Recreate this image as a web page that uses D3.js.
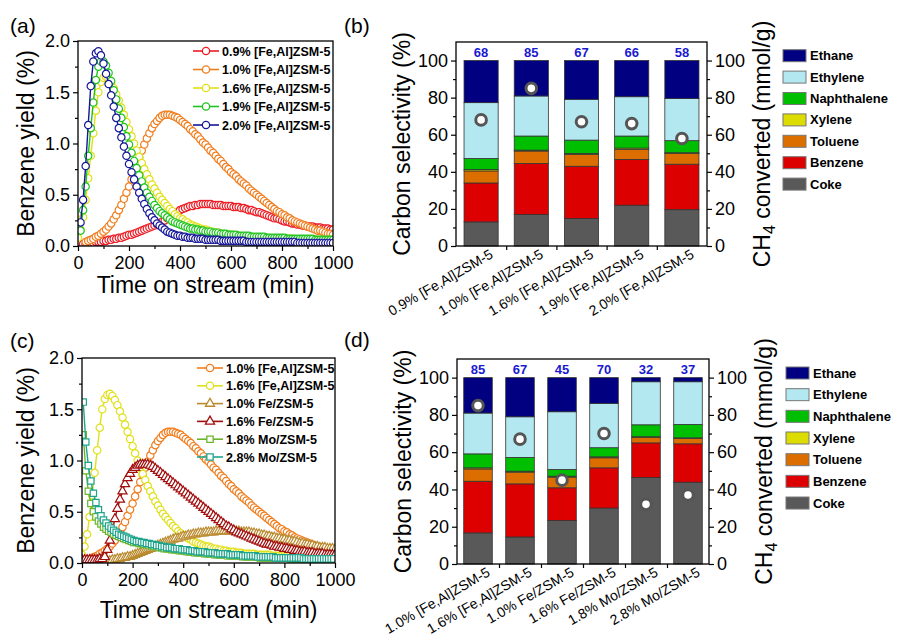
<!DOCTYPE html>
<html>
<head>
<meta charset="utf-8">
<script src="https://cdn.jsdelivr.net/npm/d3@7"></script>
<style>
  body { margin: 0; background: #fff; }
  svg { font-family: Arial, "Liberation Sans", sans-serif; }
</style>
</head>
<body>
<svg id="fig" width="898" height="640"></svg>
<script>
/*
 * Benzene yield vs time on stream (a, c) and carbon selectivity bars (b, d).
 * Yield series are sampled every 10 min from their start time.
 */
var T_STEP = 10;

// ---- benzene yield (%) ----
var yFeAl09 = [0.02,0.02,0.03,0.03,0.03,0.04,0.04,0.04,0.05,0.05,
  0.06,0.06,0.07,0.07,0.08,0.08,0.09,0.10,0.11,0.11,
  0.12,0.13,0.14,0.15,0.16,0.17,0.18,0.19,0.20,0.21,
  0.22,0.24,0.25,0.27,0.29,0.30,0.32,0.33,0.35,0.36,
  0.37,0.38,0.39,0.39,0.40,0.40,0.41,0.41,0.41,0.41,
  0.41,0.40,0.40,0.40,0.40,0.39,0.39,0.39,0.39,0.38,
  0.38,0.38,0.37,0.37,0.36,0.35,0.35,0.34,0.33,0.33,
  0.32,0.31,0.30,0.29,0.28,0.27,0.27,0.26,0.25,0.24,
  0.24,0.23,0.22,0.22,0.21,0.21,0.20,0.20,0.19,0.19,
  0.19,0.18,0.18,0.18,0.17,0.17,0.17,0.16,0.16];
var yFeAl10 = [0.04,0.05,0.06,0.07,0.09,0.10,0.12,0.14,0.16,0.19,
  0.22,0.26,0.30,0.35,0.40,0.46,0.52,0.58,0.65,0.72,
  0.79,0.86,0.93,0.99,1.05,1.10,1.15,1.19,1.22,1.25,
  1.27,1.28,1.28,1.28,1.27,1.26,1.25,1.23,1.21,1.19,
  1.17,1.14,1.12,1.09,1.07,1.04,1.01,0.99,0.96,0.93,
  0.91,0.88,0.85,0.83,0.80,0.77,0.75,0.72,0.70,0.68,
  0.65,0.63,0.61,0.59,0.56,0.54,0.52,0.50,0.48,0.46,
  0.44,0.42,0.40,0.38,0.36,0.34,0.33,0.31,0.30,0.28,
  0.27,0.25,0.24,0.23,0.22,0.21,0.20,0.19,0.18,0.17,
  0.16,0.15,0.15,0.14,0.13,0.12,0.12,0.11];
var yFeAl16 = [0.08,0.16,0.28,0.45,0.66,0.88,1.10,1.32,1.50,1.60,
  1.64,1.65,1.63,1.59,1.54,1.48,1.42,1.35,1.28,1.21,
  1.14,1.07,1.00,0.93,0.87,0.81,0.75,0.70,0.65,0.60,
  0.56,0.52,0.48,0.45,0.42,0.39,0.36,0.34,0.31,0.29,
  0.27,0.26,0.24,0.23,0.21,0.20,0.19,0.18,0.17,0.16,
  0.16,0.15,0.14,0.14,0.13,0.13,0.12,0.12,0.11,0.11,
  0.11,0.10,0.10,0.10,0.09,0.09,0.09,0.09,0.09,0.08,
  0.08,0.08,0.08,0.08,0.08,0.07,0.07,0.07,0.07,0.07,
  0.07,0.07,0.07,0.07,0.07,0.06,0.06,0.06,0.06,0.06,
  0.06,0.06,0.06,0.06,0.06,0.06,0.06,0.06,0.06,0.06,0.06];
var yFeAl19 = [0.15,0.35,0.58,0.88,1.15,1.40,1.62,1.75,1.80,1.80,
  1.76,1.69,1.61,1.52,1.43,1.34,1.25,1.16,1.07,0.99,
  0.91,0.83,0.76,0.69,0.63,0.57,0.52,0.48,0.44,0.40,
  0.37,0.34,0.32,0.30,0.28,0.26,0.24,0.23,0.22,0.21,
  0.20,0.19,0.18,0.17,0.17,0.16,0.16,0.15,0.15,0.14,
  0.14,0.14,0.13,0.13,0.13,0.12,0.12,0.12,0.11,0.11,
  0.11,0.11,0.10,0.10,0.10,0.10,0.10,0.09,0.09,0.09,
  0.09,0.09,0.09,0.08,0.08,0.08,0.08,0.08,0.08,0.08,
  0.08,0.07,0.07,0.07,0.07,0.07,0.07,0.07,0.07,0.07,
  0.07,0.07,0.06,0.06,0.06,0.06,0.06,0.06,0.06,0.06];
var yFeAl20 = [0.23,0.45,0.78,1.18,1.56,1.80,1.88,1.90,1.86,1.78,
  1.68,1.58,1.47,1.36,1.25,1.15,1.06,0.97,0.88,0.80,
  0.72,0.65,0.58,0.52,0.46,0.41,0.36,0.32,0.28,0.25,
  0.22,0.20,0.18,0.16,0.14,0.13,0.12,0.11,0.10,0.10,
  0.09,0.09,0.08,0.08,0.08,0.07,0.07,0.07,0.07,0.06,
  0.06,0.06,0.06,0.06,0.06,0.05,0.05,0.05,0.05,0.05,
  0.05,0.05,0.05,0.05,0.05,0.04,0.04,0.04,0.04,0.04,
  0.04,0.04,0.04,0.04,0.04,0.04,0.04,0.04,0.04,0.04,
  0.04,0.04,0.04,0.04,0.04,0.03,0.03,0.03,0.03,0.03,
  0.03,0.03,0.03,0.03,0.03,0.03,0.03,0.03,0.03,0.03];
var yFe10 = [0.01,0.01,0.02,0.02,0.03,0.03,0.04,0.04,0.05,0.05,
  0.06,0.06,0.07,0.08,0.09,0.10,0.11,0.12,0.13,0.14,
  0.15,0.16,0.17,0.18,0.19,0.20,0.21,0.22,0.23,0.24,
  0.24,0.25,0.26,0.26,0.27,0.27,0.28,0.28,0.29,0.29,
  0.29,0.30,0.30,0.30,0.30,0.31,0.31,0.31,0.31,0.31,
  0.31,0.31,0.31,0.31,0.31,0.30,0.30,0.30,0.30,0.29,
  0.29,0.28,0.28,0.27,0.27,0.26,0.26,0.25,0.25,0.24,
  0.24,0.23,0.23,0.22,0.22,0.21,0.21,0.20,0.19,0.19,
  0.18,0.18,0.17,0.17,0.16,0.16,0.15,0.15,0.15,0.14,
  0.14,0.14,0.13];
var yFe16 = [0.03,0.03,0.03,0.03,0.03,0.03,0.03,0.04,0.04,0.06,
  0.13,0.22,0.32,0.43,0.53,0.62,0.70,0.77,0.83,0.87,
  0.91,0.93,0.95,0.96,0.96,0.96,0.96,0.95,0.94,0.92,
  0.90,0.88,0.86,0.84,0.82,0.80,0.78,0.76,0.74,0.72,
  0.70,0.68,0.66,0.64,0.62,0.60,0.58,0.56,0.54,0.52,
  0.50,0.48,0.46,0.44,0.42,0.40,0.38,0.36,0.35,0.33,
  0.32,0.30,0.29,0.28,0.27,0.26,0.25,0.24,0.23,0.22,
  0.21,0.20,0.19,0.18,0.18,0.17,0.16,0.16,0.15,0.15,
  0.14,0.14,0.13,0.13,0.12,0.12,0.11,0.11,0.11,0.10,
  0.10,0.10,0.09,0.09,0.09,0.09,0.08,0.08,0.08,0.08,0.08];
var yMo18 = [1.25,0.90,0.70,0.58,0.50,0.45,0.41,0.38,0.35,0.33,
  0.31,0.30,0.28,0.27,0.26,0.25,0.24,0.23,0.22,0.21,
  0.20,0.20,0.19,0.19,0.18,0.18,0.17,0.17,0.16,0.16,
  0.15,0.15,0.14,0.14,0.14,0.13,0.13,0.13,0.12,0.12,
  0.12,0.11,0.11,0.11,0.10,0.10,0.10,0.10,0.09,0.09,
  0.09,0.09,0.08,0.08,0.08,0.08,0.08,0.07,0.07,0.07,
  0.07,0.07,0.07,0.06,0.06,0.06,0.06,0.06,0.06,0.06,
  0.05,0.05,0.05,0.05,0.05,0.05,0.05,0.05,0.05,0.05,
  0.05,0.05,0.04,0.04,0.04,0.04,0.04,0.04,0.04,0.04,
  0.04,0.04,0.04,0.04,0.04,0.04,0.04,0.04,0.04,0.04];
var yMo28 = [1.57,1.18,0.95,0.80,0.68,0.59,0.52,0.46,0.42,0.39,
  0.36,0.34,0.32,0.30,0.28,0.27,0.26,0.25,0.24,0.23,
  0.22,0.21,0.21,0.20,0.20,0.19,0.19,0.18,0.18,0.17,
  0.17,0.16,0.16,0.15,0.15,0.15,0.14,0.14,0.14,0.13,
  0.13,0.13,0.12,0.12,0.12,0.11,0.11,0.11,0.11,0.10,
  0.10,0.10,0.10,0.09,0.09,0.09,0.09,0.09,0.08,0.08,
  0.08,0.08,0.08,0.07,0.07,0.07,0.07,0.07,0.07,0.06,
  0.06,0.06,0.06,0.06,0.06,0.06,0.05,0.05,0.05,0.05,
  0.05,0.05,0.05,0.05,0.05,0.05,0.05,0.04,0.04,0.04,
  0.04,0.04,0.04,0.04,0.04,0.04,0.04,0.04,0.04,0.04];

var namesA  = ['0.9% [Fe,Al]ZSM-5', '1.0% [Fe,Al]ZSM-5', '1.6% [Fe,Al]ZSM-5', '1.9% [Fe,Al]ZSM-5', '2.0% [Fe,Al]ZSM-5'];
var colorsA = ['#ec1c24', '#f07d1e', '#e0e01a', '#1fc41f', '#17179a'];
var shapesA = ['circle', 'circle', 'circle', 'circle', 'circle'];
var startsA = [20, 30, 0, 10, 10];
var valuesA = [yFeAl09, yFeAl10, yFeAl16, yFeAl19, yFeAl20];

var namesC  = ['1.0% [Fe,Al]ZSM-5', '1.6% [Fe,Al]ZSM-5', '1.0% Fe/ZSM-5', '1.6% Fe/ZSM-5', '1.8% Mo/ZSM-5', '2.8% Mo/ZSM-5'];
var colorsC = ['#f07d1e', '#e0e01a', '#b98a2e', '#a10d0d', '#6cb52d', '#1fa58c'];
var shapesC = ['circle', 'circle', 'triangle', 'triangle', 'square', 'square'];
var startsC = [30, 0, 80, 0, 5, 5];
var valuesC = [yFeAl10, yFeAl16, yFe10, yFe16, yMo18, yMo28];

var timeTicks = [0, 200, 400, 600, 800, 1000];
var yieldTicks = [0, 0.5, 1, 1.5, 2];
var selTicks = [0, 20, 40, 60, 80, 100];

// ---- carbon selectivity (%) ----
var products = ['Coke', 'Benzene', 'Toluene', 'Xylene', 'Naphthalene', 'Ethylene', 'Ethane'];
var productColors = ['#595959', '#dd0000', '#dc6e00', '#dcdc00', '#00bf00', '#b3e8f0', '#000080'];

var catsB = ['0.9% [Fe,Al]ZSM-5', '1.0% [Fe,Al]ZSM-5', '1.6% [Fe,Al]ZSM-5', '1.9% [Fe,Al]ZSM-5', '2.0% [Fe,Al]ZSM-5'];
var cokeB        = [13.0, 17.0, 14.8, 22.0, 19.6];
var benzeneB     = [21.0, 27.5, 28.2, 24.7, 24.5];
var tolueneB     = [6.5, 6.7, 6.4, 5.3, 5.8];
var xyleneB      = [0.7, 0.5, 0.5, 0.8, 0.4];
var naphthaleneB = [6.0, 7.6, 7.2, 6.5, 6.5];
var ethyleneB    = [30.1, 21.6, 22.0, 21.2, 22.7];
var ethaneB      = [22.7, 19.1, 20.9, 19.5, 20.5];
var ch4B         = [68, 85, 67, 66, 58];

var catsD = ['1.0% [Fe,Al]ZSM-5', '1.6% [Fe,Al]ZSM-5', '1.0% Fe/ZSM-5', '1.6% Fe/ZSM-5', '1.8% Mo/ZSM-5', '2.8% Mo/ZSM-5'];
var cokeD        = [16.7, 14.5, 23.3, 30.0, 46.4, 43.9];
var benzeneD     = [27.7, 28.5, 17.6, 21.6, 18.6, 20.6];
var tolueneD     = [6.6, 6.3, 5.7, 5.4, 2.9, 2.9];
var xyleneD      = [0.6, 0.5, 0.5, 0.5, 0.4, 0.3];
var naphthaleneD = [7.5, 7.4, 3.6, 4.9, 6.4, 7.2];
var ethyleneD    = [21.9, 21.8, 31.0, 23.8, 23.1, 22.9];
var ethaneD      = [19.0, 21.0, 18.3, 13.8, 2.2, 2.2];
var ch4D         = [85, 67, 45, 70, 32, 37];

var svg = d3.select('#fig');

function markerPath(shape) {
    if (shape === 'triangle') return d3.symbol(d3.symbolTriangle, 36)();
    if (shape === 'square') return d3.symbol(d3.symbolSquare, 40)();
    return d3.symbol(d3.symbolCircle, 42)();
}

function styleAxes(g) {
    g.selectAll('.domain').remove();
    g.selectAll('.tick line').attr('stroke', '#000').attr('stroke-width', 1.2);
    g.selectAll('.tick text').attr('font-size', 18).attr('fill', '#000')
        .attr('font-family', 'Arial, "Liberation Sans", sans-serif');
}

function drawLinePanel(o) {
    var g = svg.append('g');
    var x = d3.scaleLinear().domain([0, 1000]).range([o.left, o.right]);
    var y = d3.scaleLinear().domain([0, 2]).range([o.bottom, o.top]);

    svg.append('clipPath').attr('id', 'clip-' + o.id)
        .append('rect')
        .attr('x', o.left).attr('y', o.top)
        .attr('width', o.right - o.left).attr('height', o.bottom - o.top);

    var plot = g.append('g').attr('clip-path', 'url(#clip-' + o.id + ')');
    var line = d3.line().x(function(d) { return x(d[0]); }).y(function(d) { return y(d[1]); });

    o.values.forEach(function(vals, k) {
        var pts = vals.map(function(v, i) { return [o.starts[k] + i * T_STEP, v]; });
        var s = plot.append('g');
        s.append('path').datum(pts)
            .attr('d', line)
            .attr('fill', 'none')
            .attr('stroke', o.colors[k])
            .attr('stroke-width', 1.4);
        s.selectAll('path.m').data(pts).enter().append('path')
            .attr('class', 'm')
            .attr('transform', function(d) { return 'translate(' + x(d[0]) + ',' + y(d[1]) + ')'; })
            .attr('d', markerPath(o.shapes[k]))
            .attr('fill', '#fff')
            .attr('stroke', o.colors[k])
            .attr('stroke-width', 1.2);
    });

    // axes
    g.append('g').attr('transform', 'translate(0,' + o.bottom + ')')
        .call(d3.axisBottom(x).tickValues(timeTicks).tickSize(5).tickPadding(5).tickFormat(d3.format('d')));
    g.append('g').attr('transform', 'translate(0,' + o.bottom + ')')
        .call(d3.axisBottom(x).tickValues([100, 300, 500, 700, 900]).tickSize(3).tickFormat(''));
    g.append('g').attr('transform', 'translate(' + o.left + ',0)')
        .call(d3.axisLeft(y).tickValues(yieldTicks).tickSize(5).tickPadding(3).tickFormat(d3.format('.1f')));
    g.append('g').attr('transform', 'translate(' + o.left + ',0)')
        .call(d3.axisLeft(y).tickValues([0.25, 0.75, 1.25, 1.75]).tickSize(3).tickFormat(''));
    styleAxes(g);

    g.append('rect')
        .attr('x', o.left).attr('y', o.top)
        .attr('width', o.right - o.left).attr('height', o.bottom - o.top)
        .attr('fill', 'none').attr('stroke', '#000').attr('stroke-width', 1.3);

    g.append('text')
        .attr('x', (o.left + o.right) / 2).attr('y', o.xTitleY)
        .attr('text-anchor', 'middle').attr('font-size', 23)
        .text('Time on stream (min)');
    g.append('text')
        .attr('transform', 'translate(34,' + (o.top + o.bottom) / 2 + ') rotate(-90)')
        .attr('text-anchor', 'middle').attr('font-size', 23)
        .text('Benzene yield (%)');

    // legend
    var lg = g.append('g');
    o.names.forEach(function(name, k) {
        var ry = o.legendY + k * o.legendStep;
        lg.append('line')
            .attr('x1', o.legendX).attr('x2', o.legendX + 26)
            .attr('y1', ry).attr('y2', ry)
            .attr('stroke', o.colors[k]).attr('stroke-width', 1.6);
        lg.append('path')
            .attr('transform', 'translate(' + (o.legendX + 13) + ',' + ry + ')')
            .attr('d', markerPath(o.shapes[k]))
            .attr('fill', '#fff').attr('stroke', o.colors[k]).attr('stroke-width', 1.3);
        lg.append('text')
            .attr('x', o.legendX + 29).attr('y', ry + 4.5)
            .attr('font-size', 12.5).attr('font-weight', 'bold')
            .text(name);
    });
}

function drawBarPanel(o) {
    var g = svg.append('g');
    var x = d3.scaleBand().domain(o.cats).range([o.left, o.right]).paddingInner(0.32).paddingOuter(0.16);
    var y = d3.scaleLinear().domain([0, 110]).range([o.bottom, o.top]);
    var y2 = d3.scaleLinear().domain([0, 110]).range([o.bottom, o.top]);

    var rows = o.cats.map(function(c, i) {
        var r = { cat: c };
        products.forEach(function(p, j) { r[p] = o.parts[j][i]; });
        return r;
    });
    var stacked = d3.stack().keys(products)(rows);

    stacked.forEach(function(layer, j) {
        g.append('g').selectAll('rect').data(layer).enter().append('rect')
            .attr('x', function(d) { return x(d.data.cat); })
            .attr('width', x.bandwidth())
            .attr('y', function(d) { return y(d[1]); })
            .attr('height', function(d) { return y(d[0]) - y(d[1]); })
            .attr('fill', productColors[j])
            .attr('stroke', '#333').attr('stroke-width', 0.8);
    });

    // CH4 converted markers (right axis)
    g.append('g').selectAll('circle').data(o.ch4).enter().append('circle')
        .attr('cx', function(d, i) { return x(o.cats[i]) + x.bandwidth() / 2; })
        .attr('cy', function(d) { return y2(d); })
        .attr('r', 5.3)
        .attr('fill', '#fff').attr('stroke', '#555').attr('stroke-width', 3);

    g.append('g').selectAll('text').data(o.ch4).enter().append('text')
        .attr('x', function(d, i) { return x(o.cats[i]) + x.bandwidth() / 2; })
        .attr('y', o.top + 14.5)
        .attr('text-anchor', 'middle').attr('font-size', 13).attr('font-weight', 'bold')
        .attr('fill', '#1a1ad0')
        .text(function(d) { return d; });

    // axes
    g.append('g').attr('transform', 'translate(' + o.left + ',0)')
        .call(d3.axisLeft(y).tickValues(selTicks).tickSize(5).tickPadding(3));
    g.append('g').attr('transform', 'translate(' + o.left + ',0)')
        .call(d3.axisLeft(y).tickValues([10, 30, 50, 70, 90]).tickSize(3).tickFormat(''));
    g.append('g').attr('transform', 'translate(' + o.right + ',0)')
        .call(d3.axisRight(y2).tickValues(selTicks).tickSize(5).tickPadding(3));
    g.append('g').attr('transform', 'translate(' + o.right + ',0)')
        .call(d3.axisRight(y2).tickValues([10, 30, 50, 70, 90]).tickSize(3).tickFormat(''));
    var bounds = o.cats.slice(1).map(function(c) { return x(c) - x.step() * x.paddingInner() / 2; });
    var bx = d3.scaleLinear().domain([o.left, o.right]).range([o.left, o.right]);
    g.append('g').attr('transform', 'translate(0,' + o.bottom + ')')
        .call(d3.axisBottom(bx).tickValues(bounds).tickSize(4).tickFormat(''));
    styleAxes(g);

    g.append('rect')
        .attr('x', o.left).attr('y', o.top)
        .attr('width', o.right - o.left).attr('height', o.bottom - o.top)
        .attr('fill', 'none').attr('stroke', '#000').attr('stroke-width', 1.3);

    // rotated category labels
    g.append('g').selectAll('text').data(o.cats).enter().append('text')
        .attr('transform', function(c) {
            return 'translate(' + (x(c) + x.bandwidth() / 2 + 13) + ',' + (o.bottom + 11) + ') rotate(-30)';
        })
        .attr('text-anchor', 'end').attr('font-size', 14)
        .text(function(c) { return c; });

    g.append('text')
        .attr('transform', 'translate(' + (o.left - 46) + ',' + (o.top + o.bottom) / 2 + ') rotate(-90)')
        .attr('text-anchor', 'middle').attr('font-size', 23)
        .text('Carbon selectivity (%)');
    var rt = g.append('text')
        .attr('transform', 'translate(' + (o.right + 63) + ',' + (o.top + o.bottom) / 2 + ') rotate(-90)')
        .attr('text-anchor', 'middle').attr('font-size', 23);
    rt.append('tspan').text('CH');
    rt.append('tspan').attr('font-size', 16).attr('dy', 5).text('4');
    rt.append('tspan').attr('dy', -5).text(' converted (mmol/g)');

    // legend, top to bottom
    var lg = g.append('g');
    products.slice().reverse().forEach(function(p, k) {
        var j = products.length - 1 - k;
        var ry = o.legendY + k * o.legendStep;
        lg.append('rect')
            .attr('x', o.legendX).attr('y', ry - 6)
            .attr('width', 23).attr('height', 12)
            .attr('fill', productColors[j]).attr('stroke', '#777').attr('stroke-width', 1);
        lg.append('text')
            .attr('x', o.legendX + 27).attr('y', ry + 4.5)
            .attr('font-size', 13).attr('font-weight', 'bold')
            .text(p);
    });
}

drawLinePanel({
    id: 'a', left: 78, right: 333, top: 41, bottom: 246, xTitleY: 293,
    names: namesA, colors: colorsA, shapes: shapesA, starts: startsA, values: valuesA,
    legendX: 193, legendY: 51, legendStep: 18.5
});
drawLinePanel({
    id: 'c', left: 82, right: 335, top: 358, bottom: 563, xTitleY: 618,
    names: namesC, colors: colorsC, shapes: shapesC, starts: startsC, values: valuesC,
    legendX: 197, legendY: 368, legendStep: 17.8
});
drawBarPanel({
    left: 456, right: 707, top: 42, bottom: 246, cats: catsB,
    parts: [cokeB, benzeneB, tolueneB, xyleneB, naphthaleneB, ethyleneB, ethaneB],
    ch4: ch4B, legendX: 783, legendY: 55.7, legendStep: 21.4
});
drawBarPanel({
    left: 457, right: 709, top: 359, bottom: 564, cats: catsD,
    parts: [cokeD, benzeneD, tolueneD, xyleneD, naphthaleneD, ethyleneD, ethaneD],
    ch4: ch4D, legendX: 786, legendY: 373, legendStep: 21.67
});

// panel letters
[['(a)', 10, 33], ['(b)', 344, 33], ['(c)', 10, 348], ['(d)', 344, 347]].forEach(function(p) {
    svg.append('text').attr('x', p[1]).attr('y', p[2]).attr('font-size', 21).text(p[0]);
});
</script>
</body>
</html>
